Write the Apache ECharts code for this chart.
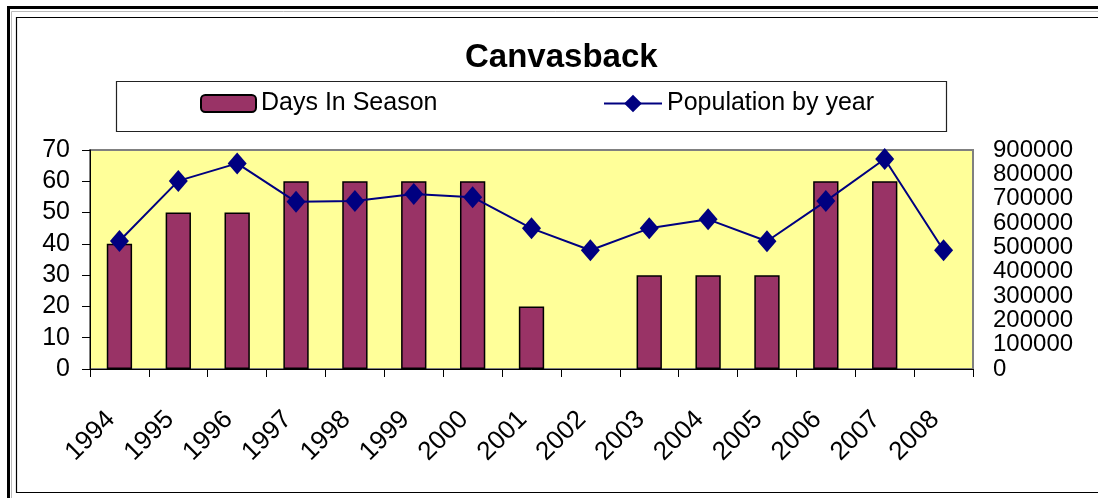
<!DOCTYPE html>
<html>
<head>
<meta charset="utf-8">
<script src="https://cdn.jsdelivr.net/npm/echarts@6/dist/echarts.min.js"></script>
<style>
html,body{margin:0;padding:0;background:#fff;}
#chart{width:1098px;height:498px;}
</style>
</head>
<body>
<div id="chart"></div>
<script>
const years = ['1994','1995','1996','1997','1998','1999','2000','2001','2002','2003','2004','2005','2006','2007','2008'];
const daysInSeason = [40, 50, 50, 60, 60, 60, 60, 20, 0, 30, 30, 30, 60, 60, 0];
const population = [526000, 773000, 845000, 687000, 690000, 719000, 706000, 578000, 488000, 578000, 615000, 525000, 690000, 863000, 488000];
const leftTicks = {min: 0, max: 70, step: 10};
const rightTicks = {min: 0, max: 900000, step: 100000};
const titleText = 'Canvasback';
const barName = 'Days In Season';
const lineName = 'Population by year';

const FONT = 'Liberation Sans, Arial, sans-serif';
const chart = echarts.init(document.getElementById('chart'), null, {renderer: 'canvas'});

const barData = daysInSeason.map(v => v === 0 ? {value: v, itemStyle: {borderWidth: 0}} : v);

chart.setOption({
  backgroundColor: '#ffffff',
  animation: false,
  title: {
    text: titleText,
    left: 465,
    top: 41,
    padding: 0,
    textStyle: {fontFamily: FONT, fontSize: 33, fontWeight: 'bold', color: '#000'}
  },
  graphic: [
    {type: 'rect', shape: {x: 8.5, y: 7.5, width: 1200, height: 600}, style: {fill: null, stroke: '#000', lineWidth: 3}, z: 100},
    {type: 'rect', shape: {x: 11.5, y: 11.5, width: 1200, height: 600}, style: {fill: null, stroke: '#bbbbbb', lineWidth: 1}, z: 100},
    {type: 'rect', shape: {x: 16.5, y: 17.5, width: 1200, height: 475}, style: {fill: null, stroke: '#000', lineWidth: 1.2}, z: 100},
    {type: 'rect', shape: {x: 116.5, y: 81.5, width: 830, height: 50}, style: {fill: '#fff', stroke: '#222', lineWidth: 1.2}, z: 0}
  ],
  legend: [
    {
      data: [barName], left: 200, top: 91, padding: 0,
      itemWidth: 55, itemHeight: 17, itemGap: 6,
      textStyle: {fontFamily: FONT, fontSize: 25, color: '#000'}
    },
    {
      data: [lineName], left: 603, top: 91, padding: 0,
      itemWidth: 58, itemHeight: 22, itemGap: 6,
      textStyle: {fontFamily: FONT, fontSize: 25, color: '#000'}
    }
  ],
  grid: {
    left: 90, right: 125, top: 150, bottom: 129,
    show: true, backgroundColor: '#FFFF99', borderColor: '#808080', borderWidth: 2,
    containLabel: false
  },
  xAxis: {
    type: 'category',
    data: years,
    boundaryGap: true,
    axisLine: {show: true, lineStyle: {color: '#000', width: 1}},
    axisTick: {show: true, length: 8, inside: false, alignWithLabel: false, interval: 0, lineStyle: {color: '#000'}},
    axisLabel: {interval: 0, rotate: 45, margin: 38, padding: [0, 12, 0, 0], fontFamily: FONT, fontSize: 26, color: '#000'},
    splitLine: {show: false}
  },
  yAxis: [
    {
      type: 'value', min: leftTicks.min, max: leftTicks.max, interval: leftTicks.step, position: 'left',
      axisLine: {show: true, lineStyle: {color: '#000', width: 1}},
      axisTick: {show: true, length: 8, lineStyle: {color: '#000'}},
      axisLabel: {margin: 20, fontFamily: FONT, fontSize: 25, color: '#000', showMinLabel: true, showMaxLabel: true},
      splitLine: {show: false}
    },
    {
      type: 'value', min: rightTicks.min, max: rightTicks.max, interval: rightTicks.step, position: 'right',
      axisLine: {show: false},
      axisTick: {show: false},
      axisLabel: {margin: 20, fontFamily: FONT, fontSize: 24, color: '#000', showMinLabel: true, showMaxLabel: true, hideOverlap: false, formatter: v => String(v)},
      splitLine: {show: false}
    }
  ],
  series: [
    {
      name: barName,
      type: 'bar',
      yAxisIndex: 0,
      data: barData,
      barWidth: '43%',
      itemStyle: {color: '#993366', borderColor: '#000', borderWidth: 1.5}
    },
    {
      name: lineName,
      type: 'line',
      yAxisIndex: 1,
      data: population,
      symbol: 'diamond',
      symbolSize: [19, 22],
      showAllSymbol: true,
      lineStyle: {color: '#000080', width: 2},
      itemStyle: {color: '#000080'},
      z: 5
    }
  ]
});
</script>
</body>
</html>
